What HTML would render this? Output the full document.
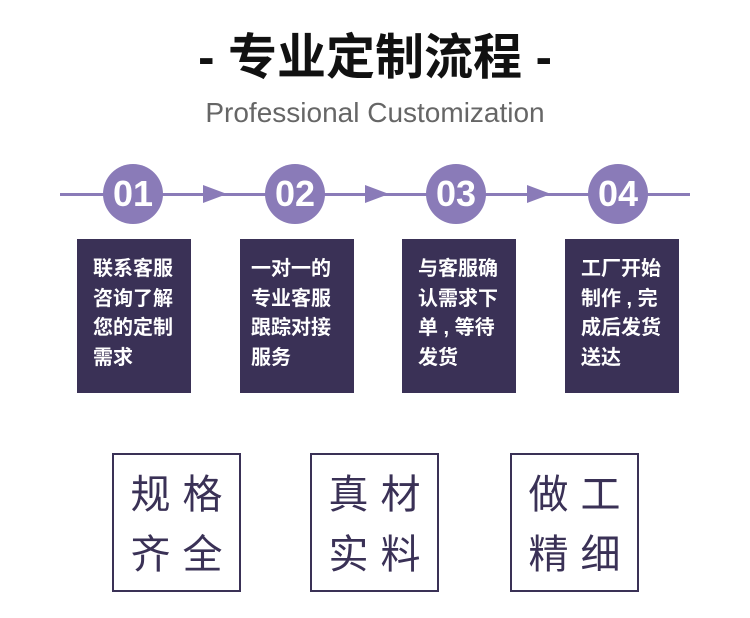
<!DOCTYPE html>
<html><head><meta charset="utf-8"><style>
body{margin:0;width:750px;height:618px;background:#fff;position:relative;overflow:hidden;font-family:"Liberation Sans","Noto Sans CJK SC",sans-serif}
.abs{position:absolute}
.title{left:0;width:750px;top:28px;text-align:center;font-size:49px;font-weight:bold;color:#111;line-height:60px;white-space:nowrap}
.sub{left:0;width:750px;top:97px;text-align:center;font-size:28px;color:#666;font-family:"Liberation Sans",sans-serif}
.line{left:60px;top:193px;width:630px;height:3px;background:#8a7bb8}
.c{width:60px;height:60px;border-radius:50%;background:#8a7bb8;top:164px;color:#fff;font-weight:bold;font-size:36px;line-height:60px;text-align:center;font-family:"Liberation Sans",sans-serif}
.ar{top:185px;width:0;height:0;border-top:9px solid transparent;border-bottom:9px solid transparent;border-left:24px solid #8a7bb8}
.b{top:239px;width:114px;height:154px;background:#3a3156;color:#fff;font-size:20px;line-height:29.5px;box-sizing:border-box;padding:16px 0 0 16px;font-weight:bold}
.q{top:453px;width:129px;height:139px;border:2.5px solid #3a3156;box-sizing:border-box;color:#3a3156;font-size:40px;line-height:60px;padding-top:10px;font-weight:normal}
.q div{text-align:center;letter-spacing:12px;padding-left:12px}
</style></head><body>
<div class="abs title">- 专业定制流程 -</div>
<div class="abs sub">Professional Customization</div>
<div class="abs line"></div>
<div class="abs c" style="left:103px">01</div>
<div class="abs c" style="left:265px">02</div>
<div class="abs c" style="left:426px">03</div>
<div class="abs c" style="left:588px">04</div>
<div class="abs ar" style="left:203px"></div>
<div class="abs ar" style="left:365px"></div>
<div class="abs ar" style="left:527px"></div>
<div class="abs b" style="left:77px">联系客服<br>咨询了解<br>您的定制<br>需求</div>
<div class="abs b" style="left:240px;padding-left:11px">一对一的<br>专业客服<br>跟踪对接<br>服务</div>
<div class="abs b" style="left:402px">与客服确<br>认需求下<br>单 , 等待<br>发货</div>
<div class="abs b" style="left:565px">工厂开始<br>制作 , 完<br>成后发货<br>送达</div>
<div class="abs q" style="left:112px"><div>规格</div><div>齐全</div></div>
<div class="abs q" style="left:310px"><div>真材</div><div>实料</div></div>
<div class="abs q" style="left:510px"><div>做工</div><div>精细</div></div>
</body></html>
